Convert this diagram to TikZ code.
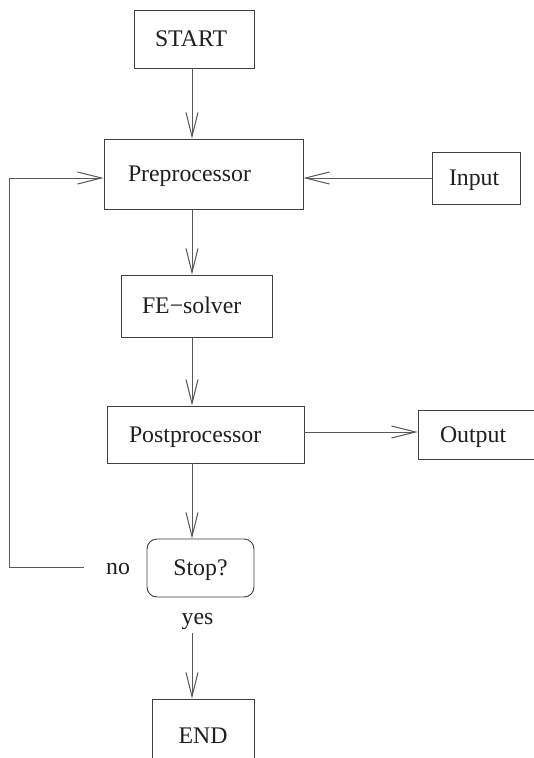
\documentclass[tikz,border=0pt]{standalone}
\usepackage{fontspec}
\setmainfont{Liberation Serif}
\usetikzlibrary{arrows.meta}
\definecolor{linec}{gray}{0.35}
\definecolor{boxc}{gray}{0.25}
\definecolor{textc}{gray}{0.12}
\tikzset{
  box/.style={draw=boxc, line width=0.9pt, inner ysep=0pt, align=left,
    text height=15.5pt, text depth=0pt, text=textc,
    font=\fontsize{23.8}{28}\selectfont},
  lbl/.style={inner ysep=0pt, text height=15.5pt, text depth=0pt, text=textc,
    font=\fontsize{23.8}{28}\selectfont},
  conn/.style={draw=linec, line width=1pt},
  arr/.style={conn, -{Straight Barb[length=24pt,width=12pt,line width=1pt]}}
}
\begin{document}
\begin{tikzpicture}[x=1pt,y=-1pt]
\path[fill=white,use as bounding box] (0,0) rectangle (534,758);

\node[box, inner xsep=21pt, text width=78pt, minimum height=58pt] (start) at (194,39) {START};
\node[box, inner xsep=24pt, text width=151pt, minimum height=70pt] (pre) at (203.5,174) {Preprocessor};
\node[box, inner xsep=17pt, text width=54pt, minimum height=52pt] (input) at (476,178) {Input};
\node[box, inner xsep=21pt, text width=109pt, minimum height=62pt] (fe) at (196.5,306) {FE−solver};
\node[box, inner xsep=22pt, text width=153pt, minimum height=57pt] (post) at (205.5,434.5) {Postprocessor};
\node[box, inner xsep=22pt, text width=96pt, minimum height=49pt] (output) at (488,434.5) {Output};
\node[box, align=center, rounded corners=10pt, inner xsep=10pt, text width=87pt, minimum height=58pt] (stop) at (200.5,568) {Stop?};
\node[box, align=center, inner xsep=10pt, text width=82pt, minimum height=73pt] (end) at (203,735.5) {END};
\node[lbl, inner xsep=22pt] (no) at (118,567) {no};
\node[lbl] (yes) at (197.5,617) {yes};

\coordinate (spine) at (192,0);
\coordinate (lt) at (9.5,178);
\coordinate (orow) at (0,432);

\draw[arr] (start.south -| spine) -- (pre.north -| spine);
\draw[arr] (pre.south -| spine) -- (fe.north -| spine);
\draw[arr] (fe.south -| spine) -- (post.north -| spine);
\draw[arr] (post.south -| spine) -- (stop.north -| spine);
\draw[arr] ([yshift=-8pt]yes.south -| spine) -- (end.north -| spine);
\draw[arr] (input.west) -- (pre.east |- input.west);
\draw[arr] (post.east |- orow) -- (output.west |- orow);
\draw[arr] (no.west) -| (lt) -- (pre.west |- lt);
\end{tikzpicture}
\end{document}
